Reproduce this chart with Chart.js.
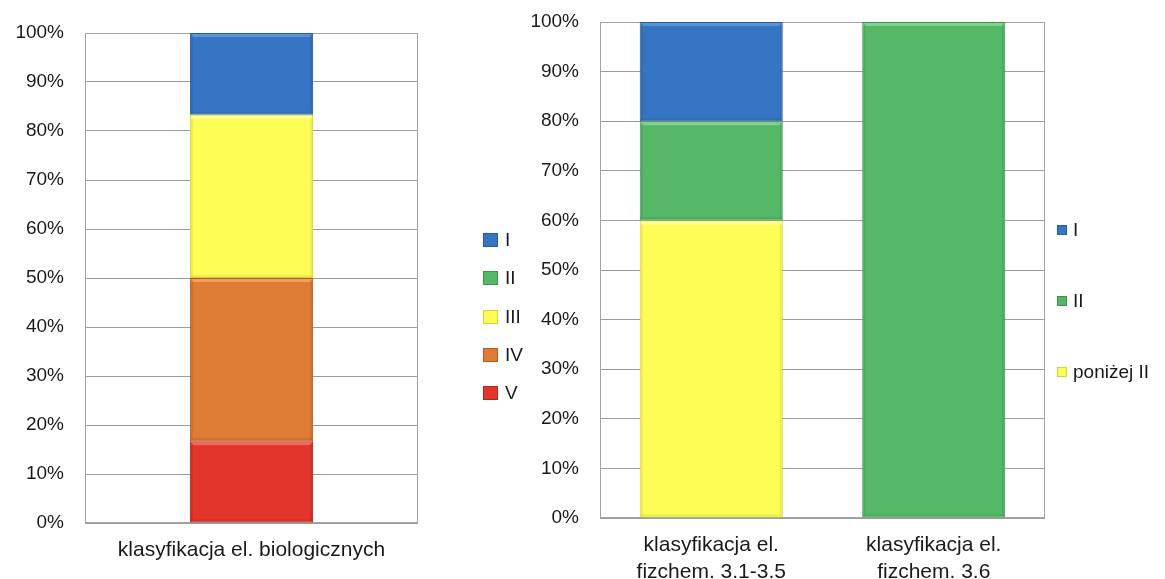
<!DOCTYPE html>
<html>
<head>
<meta charset="utf-8">
<script src="https://cdn.jsdelivr.net/npm/chart.js@4/dist/chart.umd.min.js"></script>
<style>
  body { margin: 0; background: #fff; font-family: 'Liberation Sans', Arial, sans-serif; }
  .box { position: absolute; top: 0; }
  .legend { position: absolute; font-size: 19px; color: #1a1a1a; }
  .legend div { display: flex; align-items: center; }
  .legend span.sw { display: inline-block; box-sizing: border-box; }
</style>
</head>
<body>
<div class="box" style="left:0px"><canvas id="bio" width="440" height="579"></canvas></div>
<div class="box" style="left:500px"><canvas id="chem" width="665" height="579"></canvas></div>
<div class="legend" id="bioLegend" style="left:483px; top:221px"></div>
<div class="legend" id="chemLegend" style="left:1057px; top:194px"></div>

<script>
// left chart - biological elements
const bioLabels = ['klasyfikacja el. biologicznych']
const bioI = [16.7]
const bioII = [0]
const bioIII = [33.3]
const bioIV = [33.3]
const bioV = [16.7]

// right chart - physico-chemical elements
const chemLabels = [['klasyfikacja el.', 'fizchem. 3.1-3.5'], ['klasyfikacja el.', 'fizchem. 3.6']]
const chemI = [20, 0]
const chemII = [20, 100]
const chemBelowII = [60, 0]

const yTicks = [0, 10, 20, 30, 40, 50, 60, 70, 80, 90, 100]

// fill, edge, light bevel
const blue = ['#3675c4', '#285c9e', '#5a93d8']
const green = ['#54b866', '#3d9150', '#7fd38e']
const yellow = ['#fdfd55', '#d2d232', '#ffff9a']
const orange = ['#de7c35', '#b15e22', '#f0a060']
const red = ['#e4352a', '#b2261c', '#f06a5f']

const FONT = "'Liberation Sans', Arial, sans-serif"

// grey frame round the plot area
const plotBorder = {
  id: 'plotBorder',
  beforeDatasetsDraw(chart) {
    const { ctx, chartArea } = chart
    const l = Math.round(chartArea.left) + 0.5
    const t = Math.round(chartArea.top) + 0.5
    const r = Math.round(chartArea.right) - 0.5
    const b = Math.round(chartArea.bottom) - 0.5
    ctx.save()
    ctx.strokeStyle = '#a3a3a3'
    ctx.lineWidth = 1
    ctx.strokeRect(l, t, r - l, b - t)
    ctx.restore()
  },
}

// soft bevel on each bar segment: light top edge, darker sides and bottom
const bevel = {
  id: 'bevel',
  afterDatasetsDraw(chart) {
    const { ctx } = chart
    chart.data.datasets.forEach((d, i) => {
      chart.getDatasetMeta(i).data.forEach((bar) => {
        const p = bar.getProps(['x', 'y', 'base', 'width'], true)
        const h = p.base - p.y
        if (h < 4) return
        const l = p.x - p.width / 2
        const r = p.x + p.width / 2
        ctx.save()
        ctx.fillStyle = d.bevelColor
        ctx.beginPath()
        ctx.moveTo(l + 1, p.y + 1)
        ctx.lineTo(r - 1, p.y + 1)
        ctx.lineTo(r - 4, p.y + 4)
        ctx.lineTo(l + 4, p.y + 4)
        ctx.closePath()
        ctx.fill()
        ctx.globalAlpha = 0.35
        ctx.fillStyle = d.borderColor
        ctx.fillRect(r - 3, p.y + 4, 2, h - 5)
        ctx.fillRect(l + 1, p.y + 4, 2, h - 5)
        ctx.fillRect(l + 1, p.base - 3, r - l - 2, 2)
        ctx.restore()
      })
    })
  },
}

function ds(label, values, colors) {
  return {
    label: label,
    data: values,
    backgroundColor: colors[0],
    borderColor: colors[1],
    bevelColor: colors[2],
    borderWidth: 1,
    borderSkipped: false,
  }
}

function makeOptions(yWidth, xHeight, pad, labelPad, barPct) {
  return {
    responsive: false,
    animation: false,
    layout: { padding: pad },
    datasets: { bar: { categoryPercentage: 1, barPercentage: barPct } },
    plugins: { legend: { display: false }, tooltip: { enabled: false } },
    scales: {
      x: {
        stacked: true,
        grid: { display: false },
        border: { display: false },
        ticks: {
          color: '#1a1a1a',
          font: { family: FONT, size: 21, lineHeight: 1.28 },
          padding: labelPad,
          maxRotation: 0,
          autoSkip: false,
        },
        afterFit: (scale) => { scale.height = xHeight },
      },
      y: {
        stacked: true,
        min: 0,
        max: 100,
        afterBuildTicks: (scale) => { scale.ticks = yTicks.map((v) => ({ value: v })) },
        grid: { color: '#9c9c9c', drawTicks: false },
        border: { display: false },
        ticks: {
          color: '#1a1a1a',
          font: { family: FONT, size: 19 },
          padding: 21,
          callback: (v) => v + '%',
        },
        // fixed axis width, and no extra room above / below for the labels
        afterFit: (scale) => {
          scale.width = yWidth
          scale.paddingTop = 0
          scale.paddingBottom = 0
        },
      },
    },
  }
}

const bioChart = new Chart('bio', {
  type: 'bar',
  data: {
    labels: bioLabels,
    datasets: [
      ds('V', bioV, red),
      ds('IV', bioIV, orange),
      ds('III', bioIII, yellow),
      ds('II', bioII, green),
      ds('I', bioI, blue),
    ],
  },
  options: makeOptions(85, 56, { left: 0, right: 22, top: 33, bottom: 0 }, 6, 0.37),
  plugins: [plotBorder, bevel],
})

const chemChart = new Chart('chem', {
  type: 'bar',
  data: {
    labels: chemLabels,
    datasets: [
      ds('poniżej II', chemBelowII, yellow),
      ds('II', chemII, green),
      ds('I', chemI, blue),
    ],
  },
  options: makeOptions(100, 61, { left: 0, right: 120, top: 22, bottom: 0 }, 6, 0.643),
  plugins: [plotBorder, bevel],
})

// html legend, top item is the top of the stack
function buildLegend(chart, id, rowH, swW, swH, gap) {
  const el = document.getElementById(id)
  chart.data.datasets.slice().reverse().forEach((d) => {
    const row = document.createElement('div')
    row.style.height = rowH + 'px'
    const sw = document.createElement('span')
    sw.className = 'sw'
    sw.style.width = swW + 'px'
    sw.style.height = swH + 'px'
    sw.style.marginRight = gap + 'px'
    sw.style.background = d.backgroundColor
    sw.style.border = '1px solid ' + d.borderColor
    row.appendChild(sw)
    row.appendChild(document.createTextNode(d.label))
    el.appendChild(row)
  })
}

buildLegend(bioChart, 'bioLegend', 38.3, 15, 14, 7)
buildLegend(chemChart, 'chemLegend', 71, 10, 10, 6)
</script>
</body>
</html>
